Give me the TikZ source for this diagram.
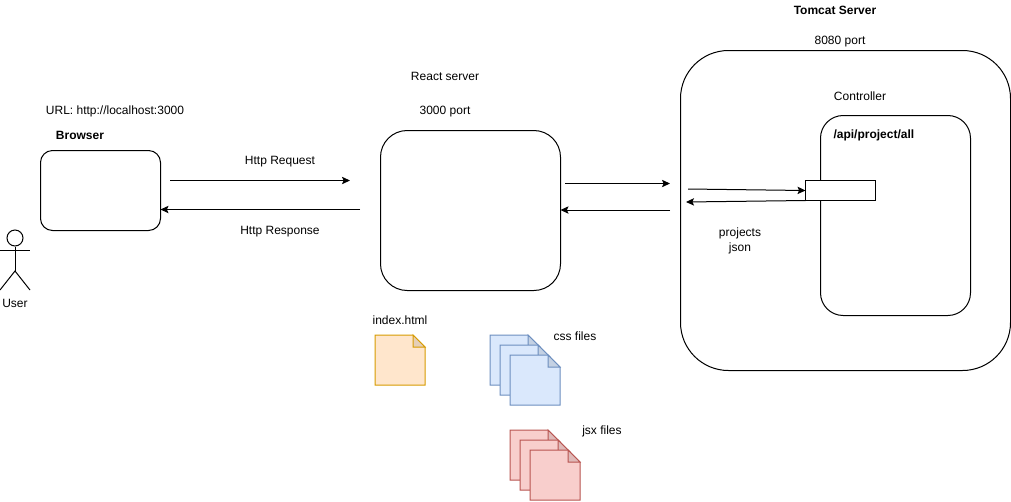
\documentclass[tikz,border=0pt]{standalone}
\usepackage{fontspec}
\setmainfont{Liberation Sans}
\usetikzlibrary{arrows.meta, positioning, calc}
\definecolor{pageorange}{HTML}{FFE6CC}
\definecolor{lineorange}{HTML}{D79B00}
\definecolor{pageblue}{HTML}{DAE8FC}
\definecolor{lineblue}{HTML}{6C8EBF}
\definecolor{pagered}{HTML}{F8CECC}
\definecolor{linered}{HTML}{B85450}
% one sheet: top left x, top left y, fill, line
\newcommand{\filepage}[4]{
    \draw[draw=#4, fill=#3] (#1,#2) -- ++(38,0) -- ++(12,12) -- ++(0,38) -- ++(-50,0) -- cycle;
    \draw[draw=#4, fill=#3!90!black] (#1+38,#2) -- ++(12,12) -- ++(-12,0) -- cycle;
}
\begin{document}
\begin{tikzpicture}[
        x=0.75pt, y=-0.75pt,
        line width=0.75pt,
        every node/.style={font=\fontsize{9}{12}\selectfont, align=center},
        caja/.style={
            rectangle,
            draw=black,
            fill=white,
            inner sep=0pt,
            outer sep=0pt,
            anchor=north west
        },
        flecha/.style={-{Stealth[length=6pt, width=5.5pt, inset=1.2pt]}}
    ]
    \useasboundingbox (0,0) rectangle (1011,501);

    % boxes
    \node[caja, rounded corners=9pt, minimum width=90pt, minimum height=60pt] (browser) at (40.5,150.5) {};
    \node[caja, rounded corners=20pt, minimum width=135pt, minimum height=120pt] (react) at (380.5,130.5) {};
    \node[caja, rounded corners=36pt, minimum width=247.5pt, minimum height=240pt] (tomcat) at (680.5,50.5) {};
    \node[caja, rounded corners=17pt, minimum width=112.5pt, minimum height=150pt] (controller) at (820.5,115.5) {};
    \node[caja, minimum width=52.5pt, minimum height=15pt] (endpoint) at (805.5,180.5) {};

    % labels
    \node[font=\fontsize{9}{12}\selectfont\bfseries] (tomcatname) at (835,10) {Tomcat Server};
    \node (tomcatport) at (840,42) {8080 port};
    \node (controllername) at (860,96) {Controller};
    \node[font=\fontsize{9}{12}\selectfont\bfseries, anchor=west, inner sep=0pt] (apipath) at (833,135) {/api/project/all};
    \node (reactname) at (445,76) {React server};
    \node (reactport) at (445,112) {3000 port};
    \node (browserurl) at (115,111) {URL: http://localhost:3000};
    \node[font=\fontsize{9}{12}\selectfont\bfseries] (browsername) at (80,135) {Browser};
    \node (httpreq) at (280,162) {Http Request};
    \node (httpres) at (280,232) {Http Response};
    \node[font=\fontsize{9}{11.25}\selectfont] (projectsjson) at (740,241) {projects\\json};
    \node (indexname) at (400,320) {index.html};
    \node (cssname) at (575,336) {css files};
    \node (jsxname) at (602,431) {jsx files};

    % user
    \node[circle, draw=black, minimum size=12pt, inner sep=0pt] (head) at (15,238) {};
    \coordinate (hip) at (15,271);
    \draw (head.south) -- (hip);
    \draw (0,250) -- (30,250);
    \draw (0,290) -- (hip) -- (30,290);
    \node (username) at (15,303) {User};

    % files
    \filepage{375}{335}{pageorange}{lineorange}
    \foreach \d in {0,10,20} {
        \filepage{490+\d}{335+\d}{pageblue}{lineblue}
    }
    \foreach \d in {0,10,20} {
        \filepage{510+\d}{430+\d}{pagered}{linered}
    }

    % arrows
    \coordinate (reqa) at (170,180.5);
    \coordinate (reqb) at (350,180.5);
    \coordinate (resa) at (360,209.5);
    \coordinate (resb) at (browser.east |- resa);
    \coordinate (fwda) at (565,183.5);
    \coordinate (fwdb) at (670,183.5);
    \coordinate (baca) at (670,210);
    \coordinate (bacb) at (react.east |- baca);
    \coordinate (apia) at (688,189);
    \coordinate (apib) at (endpoint.west |- 0,190.5);
    \coordinate (jsona) at (endpoint.south west);
    \coordinate (jsonb) at (686,202);

    \draw[flecha] (reqa) -- (reqb);
    \draw[flecha] (resa) -- (resb);
    \draw[flecha] (fwda) -- (fwdb);
    \draw[flecha] (baca) -- (bacb);
    \draw[flecha] (apia) -- (apib);
    \draw[flecha] (jsona) -- (jsonb);
\end{tikzpicture}
\end{document}
